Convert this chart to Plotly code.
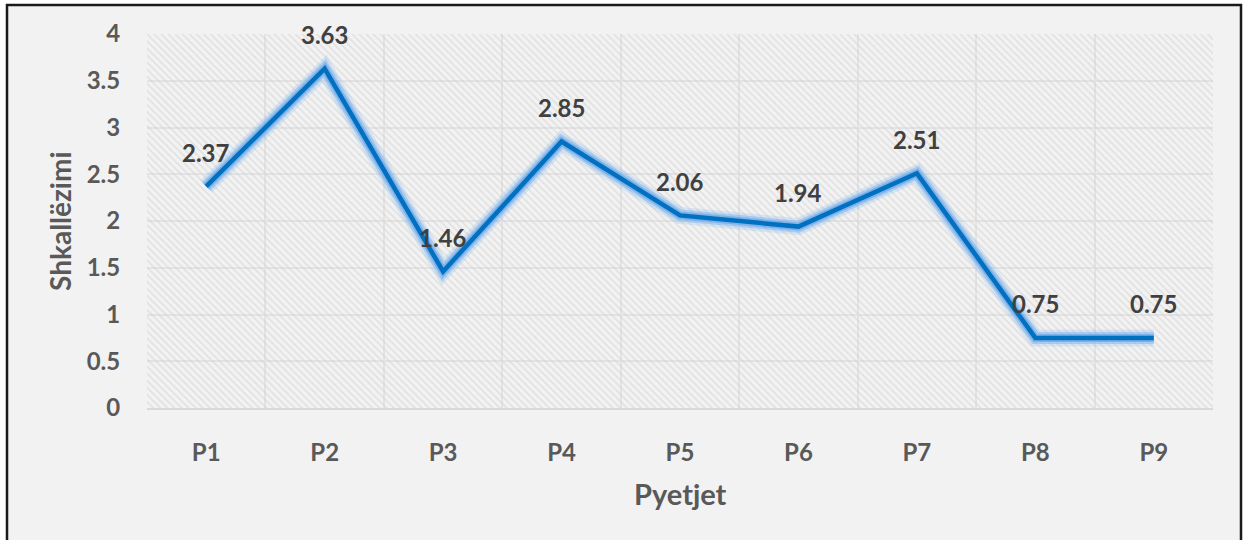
import plotly.graph_objects as go

# Question labels and their mean scale scores
questions = ["P1", "P2", "P3", "P4", "P5", "P6", "P7", "P8", "P9"]
scores = [2.37, 3.63, 1.46, 2.85, 2.06, 1.94, 2.51, 0.75, 0.75]
y_ticks = [0, 0.5, 1, 1.5, 2, 2.5, 3, 3.5, 4]
y_tick_text = ["0", "0.5", "1", "1.5", "2", "2.5", "3", "3.5", "4"]

positions = list(range(len(questions)))
x_lo, x_hi = -0.5, len(questions) - 0.5
y_lo, y_hi = 0, 4

W, H = 1244, 540
ML, MR, MT, MB = 147, 31, 34, 132
pw, ph = W - ML - MR, H - MT - MB

TEXT = "#595959"
FONT = "Lato"

fig = go.Figure()

# Hatched plot-area background
fig.add_trace(go.Scatter(
    x=[x_lo, x_hi, x_hi, x_lo, x_lo],
    y=[y_lo, y_lo, y_hi, y_hi, y_lo],
    mode="lines", line=dict(width=0, color="rgba(0,0,0,0)"),
    fill="toself", fillcolor="rgba(0,0,0,0)",
    fillpattern=dict(shape="\\", fgcolor="#cdcdcd", bgcolor="rgba(0,0,0,0)",
                     size=5, solidity=0.3),
    hoverinfo="skip", showlegend=False,
))

# Soft glow beneath the main line
for w, c in [(17, "rgba(150,195,240,0.30)"), (12, "rgba(125,180,238,0.50)"),
             (8, "rgba(100,160,230,0.60)")]:
    fig.add_trace(go.Scatter(
        x=positions, y=scores, mode="lines",
        line=dict(color=c, width=w), hoverinfo="skip", showlegend=False,
    ))

fig.add_trace(go.Scatter(
    x=positions, y=scores, mode="lines",
    line=dict(color="#0070c0", width=4.5),
    showlegend=False,
))

annotations = [
    dict(x=xv, y=yv, xref="x", yref="y", text=f"{yv:.2f}", showarrow=False,
         yshift=34, font=dict(family=FONT, size=24, color="#404040", weight="bold"))
    for xv, yv in zip(positions, scores)
]
annotations.append(dict(
    x=(60 - ML) / pw, y=0.5, xref="paper", yref="paper", text="Shkallëzimi",
    textangle=-90, showarrow=False, xanchor="center", yanchor="middle",
    font=dict(family=FONT, size=28, color=TEXT, weight="bold"),
))
annotations.append(dict(
    x=0.5, y=(H - MB - 493) / ph, xref="paper", yref="paper", text="Pyetjet",
    showarrow=False, xanchor="center", yanchor="middle",
    font=dict(family=FONT, size=29, color=TEXT, weight="bold"),
))

fig.update_layout(
    width=W, height=H,
    margin=dict(l=ML, r=MR, t=MT, b=MB),
    paper_bgcolor="white",
    plot_bgcolor="white",
    annotations=annotations,
    shapes=[dict(
        type="rect", xref="paper", yref="paper", layer="below",
        x0=(7 - ML) / pw, x1=(1241 - ML) / pw,
        y0=(H - MB - 560) / ph, y1=(H - MB - 5) / ph,
        fillcolor="#f2f2f2", line=dict(color="#1a1a1a", width=2.5),
    )],
    xaxis=dict(
        range=[x_lo, x_hi], tickmode="array", tickvals=positions, ticktext=questions,
        showgrid=False, zeroline=False,
        ticks="outside", ticklen=22, tickcolor="rgba(0,0,0,0)",
        tickfont=dict(family=FONT, size=24, color=TEXT, weight="bold"),
        showline=True, linecolor="#d9d9d9", linewidth=2,
        minor=dict(tickmode="array",
                   tickvals=[p + 0.5 for p in positions[:-1]],
                   showgrid=True, gridcolor="#e3e3e3", gridwidth=1.5, ticks=""),
    ),
    yaxis=dict(
        range=[y_lo, y_hi], tickmode="array", tickvals=y_ticks, ticktext=y_tick_text,
        showgrid=True, gridcolor="#e3e3e3", gridwidth=1.5, zeroline=False,
        ticks="outside", ticklen=21, tickcolor="rgba(0,0,0,0)",
        tickfont=dict(family=FONT, size=24, color=TEXT, weight="bold"),
    ),
)

fig.write_html("out.html")
